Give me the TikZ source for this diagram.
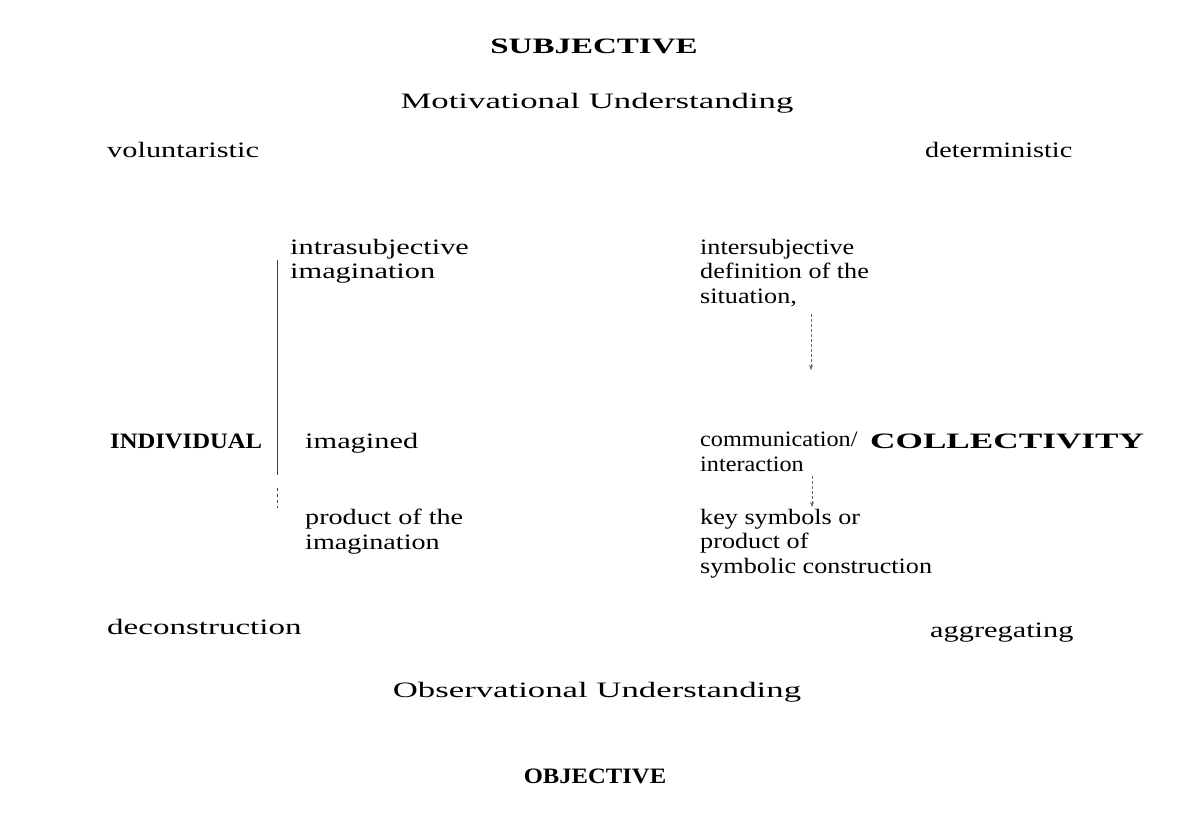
\documentclass[tikz,border=0pt]{standalone}
\usepackage{fontspec}
\setmainfont{Liberation Serif}[FakeStretch=1.38]
\newfontfamily\fwide{Liberation Serif}[FakeStretch=1.58]
\newfontfamily\fwideb{Liberation Serif}[FakeStretch=1.50]
\newfontfamily\fmid{Liberation Serif}[FakeStretch=1.28]
\newfontfamily\fright{Liberation Serif}[FakeStretch=1.19]
\newfontfamily\fcomm{Liberation Serif}[FakeStretch=1.10]
\newfontfamily\fobj{Liberation Serif}[FakeStretch=1.12]
\newfontfamily\fcoll{Liberation Serif}[FakeStretch=1.60]
\usetikzlibrary{arrows.meta}
\begin{document}
\begin{tikzpicture}[x=1pt,y=-1pt,
  lbl/.style={inner sep=0pt, font=\fontsize{22}{24.5}\selectfont, anchor=base west, align=left},
  ctr/.style={inner sep=0pt, font=\fontsize{22}{24.5}\selectfont\fwide, anchor=base},
  bigbold/.style={inner sep=0pt, font=\fontsize{22}{24.5}\selectfont\bfseries, anchor=base},
  sidebold/.style={inner sep=0pt, font=\fontsize{22}{24.5}\selectfont\bfseries, anchor=base west},
  blk/.style={inner sep=0pt, font=\fontsize{22}{24.5}\selectfont, anchor=north west, align=left},
  bracket/.style={line width=0.8pt, black!75},
  flow/.style={densely dashed, line width=0.6pt, black!60, -{Stealth[length=5pt,width=4pt]}}]
\useasboundingbox[fill=white] (0,0) rectangle (1189,828);

\node[bigbold, font=\fontsize{22}{24.5}\selectfont\fwideb\bfseries] (subj) at (594,53) {SUBJECTIVE};
\node[ctr] (motiv) at (597,108) {Motivational Understanding};
\node[lbl] (vol) at (107,157) {voluntaristic};
\node[lbl, font=\fontsize{22}{24.5}\selectfont\fmid] (det) at (925,157) {deterministic};

\node[blk] (intra) at (290,239) {intrasubjective\\imagination};
\node[blk, font=\fontsize{22}{24.5}\selectfont\fright] (inter) at (700,239) {intersubjective\\definition of the\\situation,};

\node[sidebold, font=\fontsize{22}{24.5}\selectfont\fobj\bfseries] (indiv) at (110,448) {INDIVIDUAL};
\node[lbl] (imagd) at (305,448) {imagined};
\node[blk, font=\fontsize{22}{24.5}\selectfont\fcomm] (comm) at (700,432) {communication/\\interaction};
\node[sidebold, font=\fontsize{22}{24.5}\selectfont\fcoll\bfseries] (coll) at (870,448) {COLLECTIVITY};

\node[blk, font=\fontsize{22}{24.5}\selectfont\fmid] (prod) at (305,509) {product of the\\imagination};
\node[blk, font=\fontsize{22}{24.5}\selectfont\fright] (key) at (700,509) {key symbols or\\product of\\symbolic construction};

\node[lbl, font=\fontsize{22}{24.5}\selectfont\fwideb] (decon) at (107,634) {deconstruction};
\node[lbl] (aggr) at (930,637) {aggregating};
\node[ctr] (obsv) at (597,697) {Observational Understanding};
\node[bigbold, font=\fontsize{22}{24.5}\selectfont\fobj\bfseries] (obj) at (595,783) {OBJECTIVE};

\coordinate (bt) at (277,260);
\coordinate (bb) at (277,475);
\draw[bracket] (bt) -- (bb);
\coordinate (bb2) at (277,488);
\coordinate (bb3) at (277,508);
\draw[bracket, dashed] (bb2) -- (bb3);

\coordinate (a1) at (811,314);
\coordinate (a2) at (811,370);
\draw[flow] (a1) -- (a2);
\coordinate (b1) at (812,476);
\coordinate (b2) at (812,507);
\draw[flow] (b1) -- (b2);
\end{tikzpicture}
\end{document}
